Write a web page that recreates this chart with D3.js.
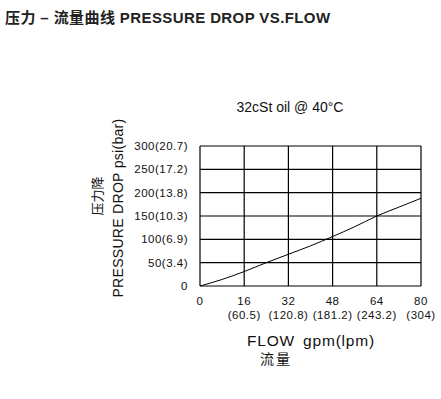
<!DOCTYPE html>
<html>
<head>
<meta charset="utf-8">
<script src="https://cdn.jsdelivr.net/npm/d3@7"></script>
<style>
  body { margin: 0; background: #fff; }
  svg { font-family: "Liberation Sans", Arial, "Noto Sans CJK SC", sans-serif; }
</style>
</head>
<body>
<div id="chart"></div>
<script>
// data
var flowTicks = [0, 16, 32, 48, 64, 80];
var lpmLabels = ["", "(60.5)", "(120.8)", "(181.2)", "(243.2)", "(304)"];
var psiTicks = [0, 50, 100, 150, 200, 250, 300];
var barLabels = ["0", "50(3.4)", "100(6.9)", "150(10.3)", "200(13.8)", "250(17.2)", "300(20.7)"];
var flow = [0, 8, 16, 24, 32, 40, 48, 56, 64, 72, 80];
var pressure = [0, 14, 31, 50, 68, 86, 106, 127, 150, 169, 188];

var width = 441, height = 399;
var margin = {top: 146, right: 20, bottom: 113, left: 200};

var svg = d3.select('#chart').append('svg')
    .attr('width', width)
    .attr('height', height);

var x = d3.scaleLinear().domain([0, 80]).range([margin.left, width - margin.right]);
var y = d3.scaleLinear().domain([0, 300]).range([height - margin.bottom, margin.top]);

// title
svg.append('text')
    .attr('x', 5).attr('y', 23)
    .style('font-size', '15px')
    .style('font-weight', 'bold')
    .style('letter-spacing', '0.4px')
    .attr('fill', '#222')
    .text('压力 – 流量曲线 PRESSURE DROP VS.FLOW');

svg.append('text')
    .attr('x', 290).attr('y', 112)
    .attr('text-anchor', 'middle')
    .style('font-size', '14px')
    .attr('fill', '#111')
    .text('32cSt oil @ 40°C');

// grid
var g = svg.append('g');
g.selectAll('.vline').data(flowTicks).enter().append('line')
    .attr('class', 'vline')
    .attr('x1', function(d){ return x(d); }).attr('x2', function(d){ return x(d); })
    .attr('y1', y(0)).attr('y2', y(300))
    .attr('stroke', '#000').attr('stroke-width', 1.2);
g.selectAll('.hline').data(psiTicks).enter().append('line')
    .attr('class', 'hline')
    .attr('y1', function(d){ return y(d); }).attr('y2', function(d){ return y(d); })
    .attr('x1', x(0)).attr('x2', x(80))
    .attr('stroke', '#000').attr('stroke-width', 1.2);

// y tick labels
g.selectAll('.ylab').data(psiTicks).enter().append('text')
    .attr('class', 'ylab')
    .attr('x', 188)
    .attr('y', function(d){ return y(d) + 4; })
    .attr('text-anchor', 'end')
    .style('font-size', '11.5px')
    .style('letter-spacing', '0.5px')
    .attr('fill', '#111')
    .text(function(d, i){ return barLabels[i]; });

// x tick labels
g.selectAll('.xlab').data(flowTicks).enter().append('text')
    .attr('class', 'xlab')
    .attr('x', function(d){ return x(d); })
    .attr('y', 305)
    .attr('text-anchor', 'middle')
    .style('font-size', '11.5px')
    .style('letter-spacing', '0.5px')
    .attr('fill', '#111')
    .text(function(d){ return d; });
g.selectAll('.xlab2').data(flowTicks).enter().append('text')
    .attr('class', 'xlab2')
    .attr('x', function(d){ return x(d); })
    .attr('y', 319)
    .attr('text-anchor', 'middle')
    .style('font-size', '11.5px')
    .style('letter-spacing', '0.5px')
    .attr('fill', '#111')
    .text(function(d, i){ return lpmLabels[i]; });

// curve
var line = d3.line()
    .x(function(d, i){ return x(flow[i]); })
    .y(function(d){ return y(d); })
    .curve(d3.curveMonotoneX);
g.append('path')
    .datum(pressure)
    .attr('d', line)
    .attr('fill', 'none')
    .attr('stroke', '#000')
    .attr('stroke-width', 1);

// axis titles
svg.append('text')
    .attr('transform', 'translate(123,208) rotate(-90)')
    .attr('text-anchor', 'middle')
    .style('font-size', '14px')
    .style('letter-spacing', '0.3px')
    .attr('fill', '#111')
    .text('PRESSURE DROP psi(bar)');
svg.append('text')
    .attr('transform', 'translate(102,196) rotate(-90)')
    .attr('text-anchor', 'middle')
    .style('font-size', '13px')
    .attr('fill', '#111')
    .text('压力降');

svg.append('text')
    .attr('x', 247).attr('y', 346)
    .style('font-size', '15.5px')
    .style('letter-spacing', '0.8px')
    .style('word-spacing', '3px')
    .attr('fill', '#111')
    .text('FLOW gpm(lpm)');
svg.append('text')
    .attr('x', 260).attr('y', 364)
    .style('font-size', '14px')
    .style('letter-spacing', '2px')
    .attr('fill', '#111')
    .text('流量');
</script>
</body>
</html>
